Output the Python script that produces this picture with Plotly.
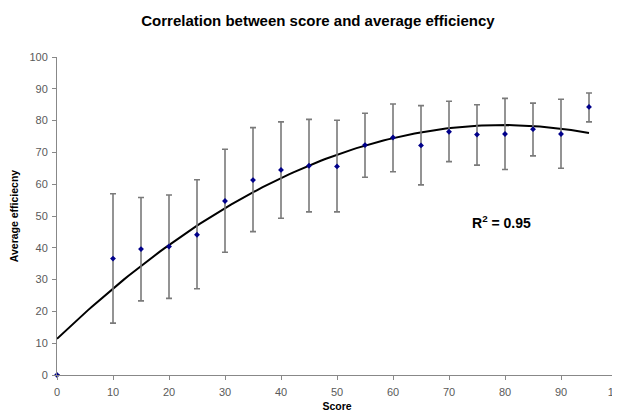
import numpy as np
import plotly.graph_objects as go

score = [0, 10, 15, 20, 25, 30, 35, 40, 45, 50, 55, 60, 65, 70, 75, 80, 85, 90, 95]
efficiency = [0, 36.6, 39.6, 40.4, 44.1, 54.7, 61.3, 64.5, 65.8, 65.6, 72.3, 74.7, 72.2, 76.5, 75.6, 75.8, 77.3, 75.8, 84.3]
err_top = [0, 57.0, 55.8, 56.6, 61.4, 71.0, 77.8, 79.6, 80.4, 80.1, 82.3, 85.2, 84.7, 86.1, 85.0, 87.0, 85.5, 86.7, 88.7]
err_bottom = [0, 16.3, 23.3, 24.1, 27.1, 38.6, 45.1, 49.3, 51.3, 51.3, 62.2, 63.9, 59.8, 67.1, 66.0, 64.6, 68.9, 65.0, 79.6]
x_ticks = [0, 10, 20, 30, 40, 50, 60, 70, 80, 90, 100]
y_ticks = [0, 10, 20, 30, 40, 50, 60, 70, 80, 90, 100]
r_squared_text = "R<sup>2</sup> = 0.95"

eff = np.array(efficiency)
plus = np.array(err_top) - eff
minus = eff - np.array(err_bottom)

coef = np.polyfit(score, efficiency, 2)
xs = np.linspace(0, 95, 120)
ys = np.polyval(coef, xs)

FONT = "Liberation Sans, Arial, sans-serif"

fig = go.Figure()
fig.add_trace(go.Scatter(
    x=xs, y=ys, mode="lines",
    line=dict(color="black", width=2),
    hoverinfo="skip", showlegend=False,
))
fig.add_trace(go.Scatter(
    x=score, y=efficiency, mode="markers", cliponaxis=False,
    marker=dict(symbol="diamond", size=4.5, color="#00008B"),
    error_y=dict(type="data", symmetric=False, array=plus, arrayminus=minus,
                 color="#7a7a7a", thickness=1.6, width=3),
    showlegend=False,
))

fig.add_annotation(
    x=79.3, y=48.1, xref="x", yref="y", text="<b>" + r_squared_text + "</b>",
    showarrow=False, font=dict(family=FONT, size=14, color="black"),
)

fig.update_layout(
    width=612, height=406,
    margin=dict(l=49, r=3, t=49, b=39, autoexpand=False),
    paper_bgcolor="white", plot_bgcolor="white",
    font=dict(family=FONT, size=11, color="#5a5a5a"),
    title=dict(text="<b>Correlation between score and average efficiency</b>",
               xref="container", x=0.5065, xanchor="center",
               yref="container", y=0.968, yanchor="middle",
               font=dict(family=FONT, size=15, color="black")),
    xaxis=dict(range=[0, 100], tickvals=x_ticks, ticks="outside", ticklen=4,
               tickcolor="#888", showline=True, linecolor="#888", linewidth=1,
               showgrid=False, zeroline=False, automargin=False,
               ticklabeloverflow="allow", ticklabelstandoff=3,
               title=dict(text="<b>Score</b>", standoff=5,
                          font=dict(family=FONT, size=10.5, color="black"))),
    yaxis=dict(range=[0, 100], tickvals=y_ticks, ticks="outside", ticklen=4,
               tickcolor="#888", showline=True, linecolor="#888", linewidth=1,
               showgrid=False, zeroline=False, automargin=False,
               ticklabelstandoff=2,
               title=dict(text="<b>Average efficiecny</b>", standoff=9,
                          font=dict(family=FONT, size=10.5, color="black"))),
)

fig.write_html("out.html")
